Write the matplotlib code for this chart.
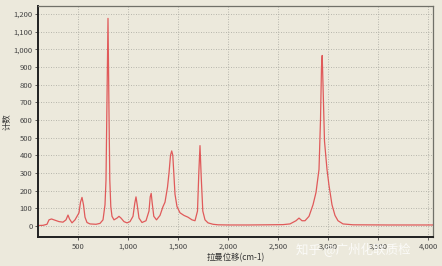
import matplotlib
matplotlib.use('Agg')
import matplotlib.pyplot as plt
from matplotlib.ticker import FuncFormatter

plt.rcParams['font.family'] = ['Noto Sans CJK SC', 'DejaVu Sans']

# Raman spectrum (wavenumber cm-1, counts)
shift = [100, 150, 190, 210, 235, 270, 310, 350, 380, 400, 415, 440, 470, 490,
         510, 525, 540, 555, 570, 590, 620, 680, 720, 750, 770, 780, 790, 800,
         810, 818, 828, 840, 860, 890, 910, 930, 960, 990, 1020, 1050, 1068,
         1080, 1092, 1110, 1140, 1180, 1210, 1222, 1232, 1242, 1258, 1285, 1320,
         1350, 1370, 1395, 1410, 1425, 1437, 1448, 1458, 1470, 1490, 1520, 1560,
         1600, 1640, 1670, 1695, 1708, 1720, 1732, 1748, 1770, 1800, 1850, 1900,
         2000, 2200, 2400, 2550, 2620, 2680, 2710, 2740, 2770, 2810, 2850, 2880,
         2910, 2925, 2935, 2942, 2950, 2965, 2990, 3010, 3040, 3070, 3100, 3150,
         3250, 3600, 4000, 4050]
counts = [3, 4, 10, 35, 40, 33, 25, 22, 35, 62, 40, 18, 35, 55,
          75, 135, 162, 120, 50, 20, 12, 10, 15, 35, 120, 260, 720, 1175,
          640, 260, 110, 55, 35, 45, 55, 45, 25, 18, 25, 55, 130,
          165, 120, 45, 20, 30, 85, 165, 185, 130, 55, 35, 60,
          110, 135, 220, 300, 400, 425, 400, 300, 180, 110, 75, 60,
          50, 35, 30, 85, 300, 455, 280, 85, 35, 18, 10, 7,
          6, 6, 7, 8, 12, 30, 45, 30, 30, 55, 120, 190,
          320, 600, 900, 965, 800, 480, 320, 230, 120, 60, 30, 12,
          7, 6, 6, 6]

bg = '#ECE9DC'
fig = plt.figure(figsize=(4.42, 2.66), dpi=100, facecolor=bg)
ax = fig.add_axes([38 / 442, 29 / 266, 395 / 442, 231 / 266], facecolor=bg)

ax.plot(shift, counts, color='#E05A5A', linewidth=0.9)

ax.set_xlim(100, 4050)
ax.set_ylim(-62, 1245)
ax.set_xticks([500, 1000, 1500, 2000, 2500, 3000, 3500, 4000])
ax.set_yticks(range(0, 1201, 100))
fmt = FuncFormatter(lambda v, p: f'{int(v):,}')
ax.xaxis.set_major_formatter(fmt)
ax.yaxis.set_major_formatter(fmt)
ax.tick_params(labelsize=5.5, length=2, width=0.6, colors='#444444', pad=2)

ax.grid(True, color='#A5A59C', linestyle=(0, (1, 2)), linewidth=0.6)

for side in ['left', 'bottom']:
    ax.spines[side].set_color('#202020')
    ax.spines[side].set_linewidth(1.4)
for side in ['top', 'right']:
    ax.spines[side].set_color('#707068')
    ax.spines[side].set_linewidth(0.9)

ax.set_xlabel('拉曼位移(cm-1)', fontsize=6, color='#333333', labelpad=2)
ax.set_ylabel('计数', fontsize=6, color='#333333')
ax.yaxis.set_label_coords(-0.068, 0.5)

fig.text(0.80, 0.06, '知乎 @广州化联质检', fontsize=9, color='white', alpha=0.8,
         ha='center', va='center')

fig.savefig('out.png', dpi=100, facecolor=bg)
